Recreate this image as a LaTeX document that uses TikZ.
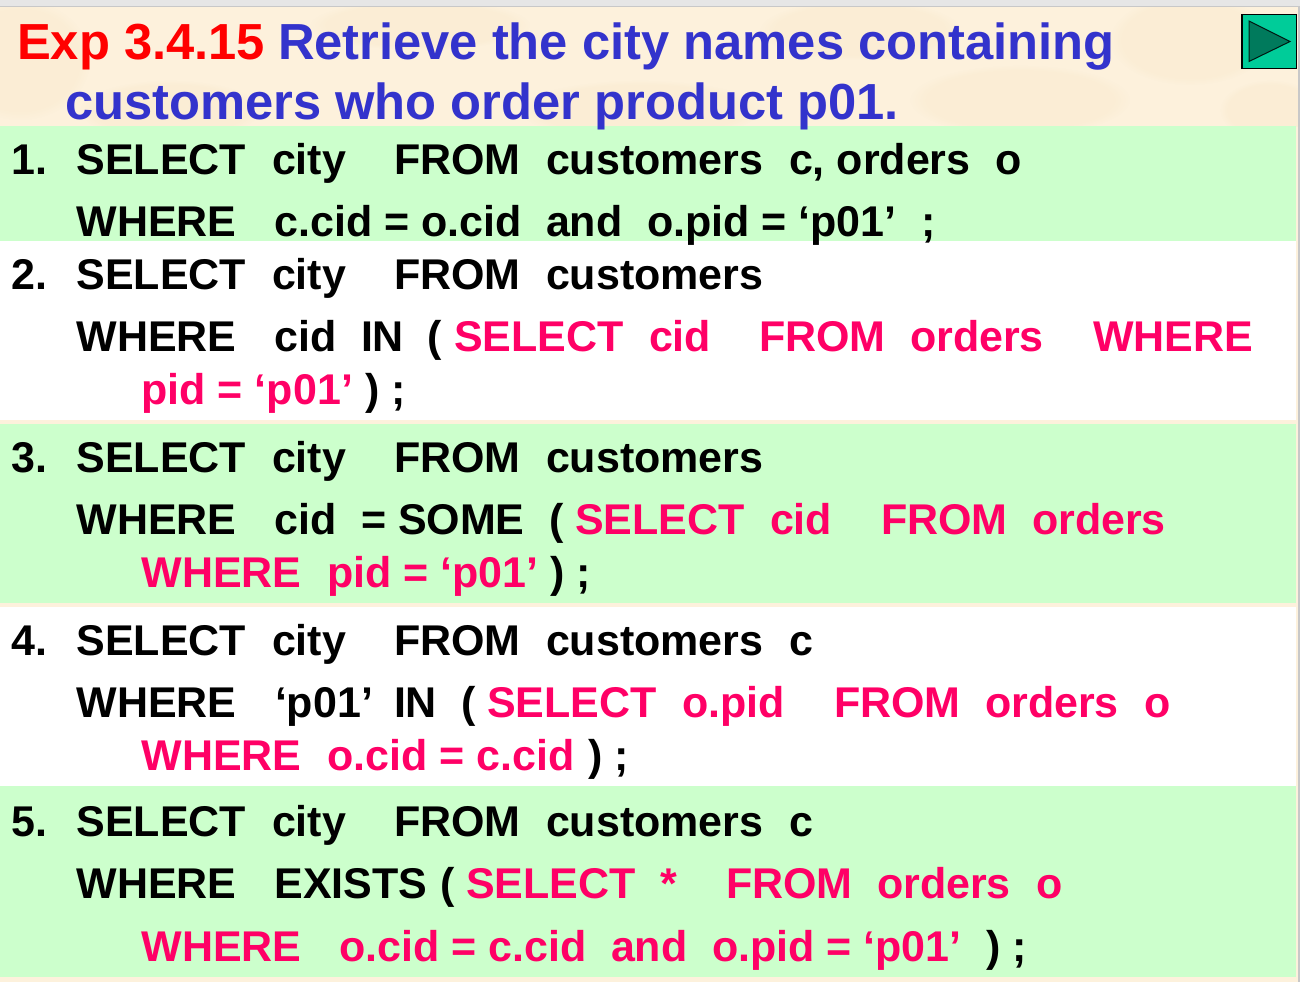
\documentclass[tikz,border=0pt]{standalone}
\usepackage{fontspec}
\usetikzlibrary{fadings}
\setmainfont{Liberation Sans}
\definecolor{cream}{HTML}{FDF1DC}
\definecolor{blotch}{HTML}{F5E2BE}
\definecolor{band}{HTML}{CCFFCC}
\definecolor{ttl}{HTML}{3333CC}
\definecolor{pinkred}{HTML}{FF0066}
\definecolor{btn}{HTML}{00CC99}
\definecolor{btnd}{HTML}{007A5C}
\definecolor{topgray}{HTML}{E6E6E6}
\definecolor{edgegray}{HTML}{C8C8C8}
\tikzset{
 tx/.style={anchor=base west,inner sep=0pt,outer sep=0pt,font=\fontsize{43}{43}\selectfont\bfseries},
 hd/.style={anchor=base west,inner sep=0pt,outer sep=0pt,font=\fontsize{50.7}{50.7}\selectfont\bfseries},
 pk/.style={tx,text=pinkred},
 mott/.style={fill=blotch,path fading=circle with fuzzy edge 15 percent,opacity=.22}
}
\begin{document}
\begin{tikzpicture}[x=1pt,y=-1pt]
\useasboundingbox (0,0) rectangle (1300,982);
\fill[cream] (0,0) rectangle (1300,982);
\begin{scope}
\clip (0,7) rectangle (1298,126);
\fill[mott] (20,60) ellipse [x radius=70,y radius=60];
\fill[mott] (170,110) ellipse [x radius=90,y radius=30];
\fill[mott] (420,25) ellipse [x radius=110,y radius=25];
\fill[mott] (640,110) ellipse [x radius=120,y radius=30];
\fill[mott] (860,30) ellipse [x radius=100,y radius=30];
\fill[mott] (1020,100) ellipse [x radius=110,y radius=35];
\fill[mott] (1190,40) ellipse [x radius=80,y radius=45];
\fill[mott] (1270,110) ellipse [x radius=50,y radius=30];
\end{scope}
\fill[topgray] (0,0) rectangle (1300,6);
\fill[edgegray] (0,6) rectangle (1300,7);
\fill[edgegray] (1298,6) rectangle (1300,982);
\fill[white] (0,241) rectangle (1296,420);
\fill[white] (0,607) rectangle (1296,786);
\fill[band] (0,126) rectangle (1296,241);
\fill[band] (0,424) rectangle (1296,603);
\fill[band] (0,786) rectangle (1296,977);
\node[hd,text=red] (h1) at (17,59.5) {Exp 3.4.15};
\node[hd,text=ttl] (h2) at (278,59.5) {Retrieve the city names containing};
\node[hd,text=ttl] (h3) at (65,119.5) {customers who order product p01.};
\draw[line width=1.2pt,fill=btn] (1242,14.5) rectangle (1296.5,68.5);
\fill[btnd,draw=black!80!btnd,line width=1pt] (1249,21) -- (1290,41.5) -- (1249,61.5) -- cycle;
% 1
\node[tx] (a1) at (12,174) {1.};
\node[tx] (a2) at (76.5,174) {SELECT};
\node[tx] (a3) at (272,174) {city};
\node[tx] (a4) at (394,174) {FROM};
\node[tx] (a5) at (546,174) {customers};
\node[tx] (a6) at (789,174) {c, orders};
\node[tx] (a7) at (995,174) {o};
\node[tx] (a8) at (76.5,236.5) {WHERE};
\node[tx] (a9) at (274.5,236.5) {c.cid = o.cid};
\node[tx] (a10) at (546,236.5) {and};
\node[tx] (a11) at (647,236.5) {o.pid = ‘p01’};
\node[tx] (a12) at (921,236.5) {;};
% 2
\node[tx] (b1) at (12,289) {2.};
\node[tx] (b2) at (76.5,289) {SELECT};
\node[tx] (b3) at (272,289) {city};
\node[tx] (b4) at (394,289) {FROM};
\node[tx] (b5) at (546,289) {customers};
\node[tx] (b6) at (76.5,351.5) {WHERE};
\node[tx] (b7) at (274.5,351.5) {cid};
\node[tx] (b8) at (361,351.5) {IN};
\node[tx] (b9) at (427,351.5) {(};
\node[pk] (b10) at (454,351.5) {SELECT};
\node[pk] (b11) at (649,351.5) {cid};
\node[pk] (b12) at (759,351.5) {FROM};
\node[pk] (b13) at (910,351.5) {orders};
\node[pk] (b14) at (1093,351.5) {WHERE};
\node[pk] (b15) at (141.5,404) {pid = ‘p01’};
\node[tx] (b16) at (365,404) {) ;};
% 3
\node[tx] (c1) at (12,472) {3.};
\node[tx] (c2) at (76.5,472) {SELECT};
\node[tx] (c3) at (272,472) {city};
\node[tx] (c4) at (394,472) {FROM};
\node[tx] (c5) at (546,472) {customers};
\node[tx] (c6) at (76.5,534.5) {WHERE};
\node[tx] (c7) at (274.5,534.5) {cid};
\node[tx] (c8) at (361,534.5) {= SOME};
\node[tx] (c9) at (549,534.5) {(};
\node[pk] (c10) at (575,534.5) {SELECT};
\node[pk] (c11) at (770,534.5) {cid};
\node[pk] (c12) at (881,534.5) {FROM};
\node[pk] (c13) at (1032,534.5) {orders};
\node[pk] (c14) at (141.5,587) {WHERE};
\node[pk] (c15) at (327,587) {pid = ‘p01’};
\node[tx] (c16) at (550,587) {) ;};
% 4
\node[tx] (d1) at (12,655) {4.};
\node[tx] (d2) at (76.5,655) {SELECT};
\node[tx] (d3) at (272,655) {city};
\node[tx] (d4) at (394,655) {FROM};
\node[tx] (d5) at (546,655) {customers};
\node[tx] (d6) at (789,655) {c};
\node[tx] (d7) at (76.5,717.5) {WHERE};
\node[tx] (d8) at (275,717.5) {‘p01’};
\node[tx] (d9) at (394,717.5) {IN};
\node[tx] (d10) at (461,717.5) {(};
\node[pk] (d11) at (487,717.5) {SELECT};
\node[pk] (d12) at (682,717.5) {o.pid};
\node[pk] (d13) at (834,717.5) {FROM};
\node[pk] (d14) at (985,717.5) {orders};
\node[pk] (d15) at (1144,717.5) {o};
\node[pk] (d16) at (141.5,770) {WHERE};
\node[pk] (d17) at (327,770) {o.cid = c.cid};
\node[tx] (d18) at (588,770) {) ;};
% 5
\node[tx] (e1) at (12,836) {5.};
\node[tx] (e2) at (76.5,836) {SELECT};
\node[tx] (e3) at (272,836) {city};
\node[tx] (e4) at (394,836) {FROM};
\node[tx] (e5) at (546,836) {customers};
\node[tx] (e6) at (789,836) {c};
\node[tx] (e7) at (76.5,898.5) {WHERE};
\node[tx] (e8) at (274.5,898.5) {EXISTS};
\node[tx] (e9) at (440,898.5) {(};
\node[pk] (e10) at (466,898.5) {SELECT};
\node[pk] (e11) at (660,898.5) {*};
\node[pk] (e12) at (726,898.5) {FROM};
\node[pk] (e13) at (877,898.5) {orders};
\node[pk] (e14) at (1036,898.5) {o};
\node[pk] (e15) at (141.5,961) {WHERE};
\node[pk] (e16) at (339,961) {o.cid = c.cid};
\node[pk] (e17) at (611,961) {and};
\node[pk] (e18) at (712,961) {o.pid = ‘p01’};
\node[tx] (e19) at (986,961) {) ;};
\end{tikzpicture}
\end{document}
